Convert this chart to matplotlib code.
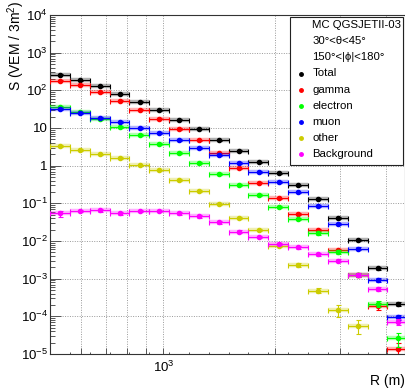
import matplotlib
matplotlib.use("Agg")
import matplotlib.pyplot as plt
from matplotlib.patches import Rectangle
from matplotlib.ticker import FixedLocator, FixedFormatter, NullFormatter
import numpy as np

plt.rcParams["font.family"] = ["Liberation Sans", "DejaVu Sans"]
plt.rcParams["mathtext.fontset"] = "custom"
plt.rcParams["mathtext.rm"] = "Liberation Sans"
plt.rcParams["mathtext.it"] = "Liberation Sans:italic"
plt.rcParams["mathtext.bf"] = "Liberation Sans:bold"

# radial bins (m), equal width in log R
r_edges = [494, 559, 632, 716, 810, 916, 1037, 1173, 1327, 1502,
           1699, 1923, 2175, 2462, 2785, 3151, 3566, 4035, 4565]

# signal per component, VEM / 3m^2 (nan = empty bin)
total = [260, 188, 128, 80, 49.9, 29.5, 16.6, 9.41, 4.72, 2.50,
         1.25, 0.628, 0.301, 0.133, 0.0416, 0.0106, 0.00189, 0.000213]
gamma = [180, 141, 88.7, 53.1, 30.6, 17.7, 9.4, 4.72, 2.13, 0.842,
         0.353, 0.136, 0.0531, 0.0196, 0.00578, 0.00125, 0.000188, 1.36e-5]
electron = [35.5, 26.1, 17.0, 10.6, 6.52, 3.83, 2.17, 1.16, 0.590, 0.313,
            0.164, 0.0815, 0.0378, 0.0160, 0.00511, 0.00129, 0.000213, 2.61e-5]
muon = [31.4, 24.6, 18.4, 14.4, 10.2, 7.24, 4.72, 3.00, 1.88, 1.16,
        0.667, 0.369, 0.196, 0.0851, 0.0278, 0.00625, 0.000923, 9.44e-5]
other = [3.27, 2.61, 2.00, 1.57, 1.02, 0.745, 0.409, 0.213, 0.0961, 0.0416,
         0.0193, 0.00752, 0.00231, 0.000485, 0.000148, 5.55e-5, np.nan, np.nan]
background = [0.0544, 0.0627, 0.0654, 0.0544, 0.0627, 0.0627, 0.0544, 0.0448, 0.0316, 0.0176,
              0.0129, 0.00834, 0.00673, 0.00447, 0.00300, 0.00125, 0.000523, 7.21e-5]

# relative statistical errors
total_err = [0.03, 0.03, 0.03, 0.03, 0.03, 0.03, 0.03, 0.03, 0.03, 0.03,
             0.03, 0.03, 0.04, 0.04, 0.05, 0.06, 0.08, 0.12]
gamma_err = [0.04, 0.04, 0.04, 0.04, 0.04, 0.04, 0.04, 0.04, 0.04, 0.04,
             0.04, 0.05, 0.05, 0.06, 0.08, 0.10, 0.20, 0.45]
electron_err = [0.05, 0.05, 0.05, 0.05, 0.05, 0.05, 0.05, 0.05, 0.05, 0.05,
                0.05, 0.05, 0.06, 0.08, 0.10, 0.12, 0.18, 0.40]
muon_err = [0.05, 0.05, 0.05, 0.05, 0.05, 0.05, 0.05, 0.05, 0.05, 0.05,
            0.05, 0.05, 0.05, 0.06, 0.07, 0.08, 0.10, 0.15]
other_err = [0.05, 0.05, 0.05, 0.05, 0.05, 0.05, 0.05, 0.05, 0.06, 0.06,
             0.07, 0.08, 0.10, 0.15, 0.35, 0.40, 0.0, 0.0]
background_err = [0.18, 0.08, 0.08, 0.08, 0.08, 0.08, 0.08, 0.08, 0.08, 0.08,
                  0.08, 0.08, 0.08, 0.08, 0.10, 0.12, 0.12, 0.20]

series = [
    ("Total", total, total_err, "#000000"),
    ("gamma", gamma, gamma_err, "#ff0000"),
    ("electron", electron, electron_err, "#00ff00"),
    ("muon", muon, muon_err, "#0000ff"),
    ("other", other, other_err, "#cccc00"),
    ("Background", background, background_err, "#ff00ff"),
]

y_major = [1e-5, 1e-4, 1e-3, 1e-2, 1e-1, 1, 10, 1e2, 1e3, 1e4]
y_labels = ["$10^{-5}$", "$10^{-4}$", "$10^{-3}$", "$10^{-2}$", "$10^{-1}$",
            "1", "10", "$10^{2}$", "$10^{3}$", "$10^{4}$"]
x_major = [600, 700, 800, 900, 1000, 2000, 3000, 4000]
x_labels = ["", "", "", "", "$10^{3}$", "", "", ""]

W, H = 406, 389
fig = plt.figure(figsize=(W / 100, H / 100), dpi=100)
ax = fig.add_axes([50 / W, 1 - 354 / H, 355 / W, 339 / H])


def fx(px):
    return px / W


def fy(py):
    return 1 - py / H


edges = np.array(r_edges, float)
lo, hi = edges[:-1], edges[1:]
centers = 0.5 * (lo + hi)

for z, (name, vals, rel, color) in enumerate(series):
    v = np.array(vals, float)
    e = v * np.array(rel, float)
    ok = ~np.isnan(v)
    # soft band under each bin's horizontal bar
    ax.hlines(v[ok], lo[ok], hi[ok], colors=color, linewidth=3.2, alpha=0.3,
              zorder=2 + z)
    ax.errorbar(centers[ok], v[ok], xerr=[centers[ok] - lo[ok], hi[ok] - centers[ok]],
                yerr=e[ok], fmt="o", ms=3, color=color, elinewidth=0.8,
                capsize=1.8, capthick=0.8, zorder=2.5 + z)

ax.set_xscale("log")
ax.set_yscale("log")
ax.set_xlim(494, 4500)
ax.set_ylim(1e-5, 1e4)

ax.yaxis.set_major_locator(FixedLocator(y_major))
ax.yaxis.set_major_formatter(FixedFormatter(y_labels))
ax.yaxis.set_minor_locator(FixedLocator(
    [m * 10.0 ** d for d in range(-5, 4) for m in range(2, 10)]))
ax.yaxis.set_minor_formatter(NullFormatter())
ax.xaxis.set_major_locator(FixedLocator(x_major))
ax.xaxis.set_major_formatter(FixedFormatter(x_labels))
ax.xaxis.set_minor_locator(FixedLocator(r_edges))
ax.xaxis.set_minor_formatter(NullFormatter())

ax.tick_params(axis="y", which="major", direction="in", length=8, width=0.7,
               color="#555555", labelsize=9.5, pad=1.5)
ax.tick_params(axis="y", which="minor", direction="in", length=3.6, width=0.7,
               color="#555555")
ax.tick_params(axis="x", which="major", direction="in", length=4, width=0.7,
               color="#555555", labelsize=9.5, pad=4)
ax.tick_params(axis="x", which="minor", direction="in", length=1.7, width=0.7,
               color="#555555")
for s in ax.spines.values():
    s.set_linewidth(0.8)
    s.set_color("#333333")

ax.grid(True, which="major", linestyle=(0, (1, 1.5)), color="#999999", linewidth=0.7)
ax.set_axisbelow(True)

fig.text(fx(16), fy(1), "S (VEM / 3m$^{2}$)", rotation=90, ha="center", va="top",
         fontsize=10)
fig.text(fx(405), fy(381), "R (m)", ha="right", va="center", fontsize=10)

# legend box
fig.add_artist(Rectangle((fx(290), fy(165)), fx(403) - fx(290), fy(17) - fy(165),
                         transform=fig.transFigure, facecolor="white",
                         edgecolor="#222222", linewidth=0.8, zorder=10))
header = ["MC QGSJETII-03", "30°<θ<45°", "150°<|ϕ|<180°"]
rows_y = [25, 41.5, 57.5, 73.5, 90, 106, 122, 138, 154]
for t, y in zip(header, rows_y[:3]):
    fig.text(fx(312.5), fy(y), t, ha="left", va="center", fontsize=8.2, zorder=11)
for (name, vals, rel, color), y in zip(series, rows_y[3:]):
    fig.text(fx(312.5), fy(y), name, ha="left", va="center", fontsize=8.2, zorder=11)
    fig.add_artist(plt.Line2D([fx(301)], [fy(y)], marker="o", ms=2.5, color=color,
                              linestyle="none", transform=fig.transFigure, zorder=11))

fig.savefig("out.png", dpi=100)
